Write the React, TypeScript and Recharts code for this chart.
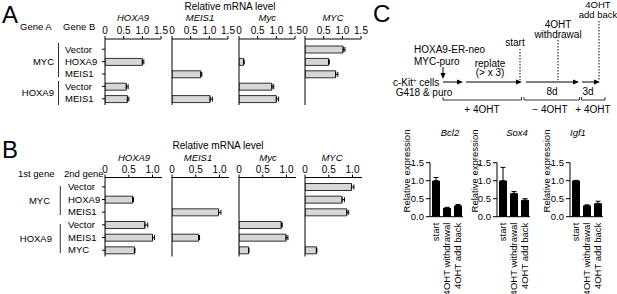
import React from "react";
import { BarChart, Bar, XAxis, YAxis, ErrorBar } from "recharts";

const FONT = "'Liberation Sans', Arial, Helvetica, sans-serif";

// ---- panel A ----
const aGeneA = ["MYC", "MYC", "MYC", "HOXA9", "HOXA9"];
const aGeneB = ["Vector", "HOXA9", "MEIS1", "Vector", "MEIS1"];
const aTargets = ["HOXA9", "MEIS1", "Myc", "MYC"];
const aValues = [
  [null, 1.0, null, 0.57, 0.6],
  [null, null, 0.77, null, 1.02],
  [null, 0.12, null, 0.88, 1.0],
  [1.02, 0.63, 0.82, null, null],
];
const aErrors = [
  [null, 0.04, null, 0.05, 0.04],
  [null, null, 0.03, null, 0.06],
  [null, 0.02, null, 0.05, 0.06],
  [0.05, 0.02, 0.06, null, null],
];
const aTicks = [0, 0.5, 1, 1.5];

// ---- panel B ----
const bGene1 = ["MYC", "MYC", "MYC", "HOXA9", "HOXA9", "HOXA9"];
const bGene2 = ["Vector", "HOXA9", "MEIS1", "Vector", "MEIS1", "MYC"];
const bTargets = ["HOXA9", "MEIS1", "Myc", "MYC"];
const bValues = [
  [null, 0.58, null, 0.84, 1.0, 0.62],
  [null, null, 0.98, null, 0.56, null],
  [null, null, null, 0.89, 0.99, 0.2],
  [0.98, 0.78, 0.88, null, null, 0.24],
];
const bErrors = [
  [null, 0.02, null, 0.06, 0.04, 0.01],
  [null, null, 0.05, null, 0.02, null],
  [null, null, null, 0.02, 0.04, 0.01],
  [0.05, 0.05, 0.04, null, null, 0.01],
];
const bTicks = [0, 0.5, 1];

// ---- panel C ----
const cConditions = ["start", "4OHT withdrawal", "4OHT add back"];
const cGenes = ["Bcl2", "Sox4", "Igf1"];
const cValues = [
  [1.0, 0.24, 0.31],
  [1.0, 0.65, 0.46],
  [1.0, 0.31, 0.37],
];
const cErrors = [
  [0.09, 0.02, 0.03],
  [0.37, 0.05, 0.04],
  [0.01, 0.02, 0.06],
];
const cTicks = [0, 0.5, 1, 1.5];

const panelX = [105, 172, 239.3, 305];

const fmtTick = (v: number) => (v === 0 ? "0" : v.toFixed(1));

function RowTick(props: any) {
  const { y, payload, labelX } = props;
  return (
    <text x={labelX} y={y} dy="0.35em" fontSize={9.5} fontFamily={FONT} fill="#000">
      {String(payload.value).split("/")[1]}
    </text>
  );
}

function HBarPanel(props: {
  left: number;
  top: number;
  axisX: number;
  axisY: number;
  bottom: number;
  plotW: number;
  domain: number[];
  ticks: number[];
  rows: string[];
  values: (number | null)[];
  errors: (number | null)[];
  labelX?: number;
  padTop: number;
}) {
  const { left, top, axisX, axisY, bottom, plotW, domain, ticks, rows, values, errors, labelX, padTop } = props;
  const data = rows.map((r, j) => ({
    key: r,
    value: values[j],
    err: errors[j] == null ? null : [0, errors[j]],
  }));
  const yw = axisX - left;
  return (
    <div style={{ position: "absolute", left, top }}>
      <BarChart
        width={yw + plotW + 8}
        height={bottom - top}
        data={data}
        layout="vertical"
        margin={{ top: axisY - top - 30, right: 8, bottom: 0, left: 0 }}
      >
        <XAxis
          type="number"
          orientation="top"
          domain={domain}
          ticks={ticks}
          interval={0}
          allowDataOverflow
          height={30}
          tickSize={3}
          tickFormatter={fmtTick}
          tick={{ fontSize: 10, fill: "#000", fontFamily: FONT }}
          axisLine={{ stroke: "#000" }}
          tickLine={{ stroke: "#000" }}
        />
        <YAxis
          type="category"
          dataKey="key"
          width={yw}
          interval={0}
          tickSize={3}
          padding={{ top: padTop, bottom: 0 }}
          axisLine={{ stroke: "#000" }}
          tickLine={{ stroke: "#000" }}
          tick={labelX != null ? <RowTick labelX={labelX - left} /> : false}
        />
        <Bar dataKey="value" fill="#d6d6d6" stroke="#000" strokeWidth={0.8} barSize={7} isAnimationActive={false}>
          <ErrorBar dataKey="err" direction="x" width={2.5} stroke="#000" strokeWidth={1} />
        </Bar>
      </BarChart>
    </div>
  );
}

function RotTick(props: any) {
  const { x, y, payload } = props;
  return (
    <text
      x={x}
      y={y}
      transform={`rotate(-90 ${x} ${y})`}
      textAnchor="end"
      dy="0.35em"
      fontSize={9.5}
      fontFamily={FONT}
      fill="#000"
    >
      {payload.value}
    </text>
  );
}

function VBarPanel({ axisX, values, errors }: { axisX: number; values: number[]; errors: number[] }) {
  const data = cConditions.map((c, j) => ({ name: c, value: values[j], err: [0, errors[j]] }));
  const top = 140;
  return (
    <div style={{ position: "absolute", left: axisX - 35, top }}>
      <BarChart width={35 + 33 + 2} height={152} data={data} margin={{ top: 22.7, right: 2, bottom: 0, left: 0 }}>
        <XAxis
          dataKey="name"
          interval={0}
          height={75.3}
          tickSize={4}
          tickLine={false}
          axisLine={{ stroke: "#000" }}
          tick={<RotTick />}
        />
        <YAxis
          type="number"
          domain={[0, 1.5]}
          ticks={cTicks}
          interval={0}
          width={35}
          tickSize={4}
          tickFormatter={(v: number) => v.toFixed(1)}
          tick={{ fontSize: 9.5, fill: "#000", fontFamily: FONT }}
          axisLine={{ stroke: "#000" }}
          tickLine={{ stroke: "#000" }}
        />
        <Bar dataKey="value" fill="#000" barSize={8} isAnimationActive={false}>
          <ErrorBar dataKey="err" direction="y" width={2.5} stroke="#000" strokeWidth={1} />
        </Bar>
      </BarChart>
    </div>
  );
}

function T({ x, y, children, anchor = "start", size = 9.5, italic = false }: any) {
  return (
    <text x={x} y={y} textAnchor={anchor} fontSize={size} fontFamily={FONT} fontStyle={italic ? "italic" : "normal"} fill="#000">
      {children}
    </text>
  );
}

function Arrow({ x1, x2, y }: { x1: number; x2: number; y: number }) {
  return (
    <g>
      <line x1={x1} y1={y} x2={x2 - 5} y2={y} stroke="#000" strokeWidth={1} />
      <polygon points={`${x2},${y} ${x2 - 6},${y - 2.5} ${x2 - 6},${y + 2.5}`} fill="#000" />
    </g>
  );
}

function Seg({ x1, x2, y }: { x1: number; x2: number; y: number }) {
  return (
    <g stroke="#000" strokeWidth={0.8}>
      <line x1={x1} y1={y} x2={x2} y2={y} />
      <line x1={x1} y1={y - 3} x2={x1} y2={y} />
      <line x1={x2} y1={y - 3} x2={x2} y2={y} />
    </g>
  );
}

export default function App() {
  const aRows = aGeneB.map((b, j) => aGeneA[j] + "/" + b);
  const bRows = bGene2.map((b, j) => bGene1[j] + "/" + b);
  return (
    <div style={{ position: "absolute", left: 0, top: 0, width: 617, height: 294, background: "#fff", overflow: "hidden" }}>
      <style>{`.recharts-surface{overflow:visible}`}</style>
      {aTargets.map((g, i) => (
        <HBarPanel
          key={"a" + g + i}
          left={i === 0 ? 0 : panelX[i] - 8}
          top={0}
          axisX={panelX[i]}
          axisY={39}
          bottom={105}
          plotW={56}
          domain={[0, 1.5]}
          ticks={aTicks}
          rows={aRows}
          values={aValues[i]}
          errors={aErrors[i]}
          labelX={i === 0 ? 65 : undefined}
          padTop={4}
        />
      ))}
      {bTargets.map((g, i) => (
        <HBarPanel
          key={"b" + g + i}
          left={i === 0 ? 0 : panelX[i] - 8}
          top={120}
          axisX={panelX[i]}
          axisY={177.5}
          bottom={256.5}
          plotW={57}
          domain={[0, 1.2]}
          ticks={bTicks}
          rows={bRows}
          values={bValues[i]}
          errors={bErrors[i]}
          labelX={i === 0 ? 68 : undefined}
          padTop={3}
        />
      ))}
      {cGenes.map((g, i) => (
        <VBarPanel key={"c" + g} axisX={[430, 497, 570][i]} values={cValues[i]} errors={cErrors[i]} />
      ))}
      <svg width={617} height={294} style={{ position: "absolute", left: 0, top: 0, pointerEvents: "none" }}>
        {/* panel A labels */}
        <T x={2} y={23} size={24}>A</T>
        <T x={230} y={10} size={10} anchor="middle">Relative mRNA level</T>
        {aTargets.map((g, i) => (
          <T key={g + i} x={panelX[i] + 28} y={20.5} anchor="middle" italic>{g}</T>
        ))}
        <T x={20} y={30}>Gene A</T>
        <T x={63} y={30}>Gene B</T>
        <T x={54} y={65} anchor="end">MYC</T>
        <T x={54} y={96} anchor="end">HOXA9</T>
        <line x1={58.5} y1={43} x2={58.5} y2={77} stroke="#000" strokeWidth={0.8} />
        <line x1={58.5} y1={81} x2={58.5} y2={105} stroke="#000" strokeWidth={0.8} />

        {/* panel B labels */}
        <T x={2} y={158} size={24}>B</T>
        <T x={218} y={148.5} size={10} anchor="middle">Relative mRNA level</T>
        {bTargets.map((g, i) => (
          <T key={g + i} x={[134, 198, 268, 332][i]} y={160.5} anchor="middle" italic>{g}</T>
        ))}
        <T x={18} y={176.5}>1st gene</T>
        <T x={64} y={176.5}>2nd gene</T>
        <T x={50} y={204} anchor="end">MYC</T>
        <T x={52} y={241.5} anchor="end">HOXA9</T>
        <line x1={60.3} y1={186} x2={60.3} y2={215} stroke="#000" strokeWidth={0.8} />
        <line x1={60.3} y1={224} x2={60.3} y2={253} stroke="#000" strokeWidth={0.8} />

        {/* panel C scheme */}
        <T x={373} y={22} size={24}>C</T>
        <T x={414} y={53} size={10}>HOXA9-ER-neo</T>
        <T x={414} y={65} size={10}>MYC-puro</T>
        <line x1={443} y1={67} x2={443} y2={74} stroke="#000" strokeWidth={1} />
        <polygon points="443,79 440.5,73 445.5,73" fill="#000" />
        <text x={393} y={85.5} fontSize={10} fontFamily={FONT} fill="#000">
          c-Kit<tspan dy={-3.5} fontSize={6}>+</tspan>
          <tspan dy={3.5}> cells</tspan>
        </text>
        <Arrow x1={443} x2={463} y={82} />
        <Arrow x1={466} x2={522} y={82} />
        <Arrow x1={526} x2={579} y={82} />
        <Arrow x1={582} x2={600} y={82} />
        <T x={490} y={66.5} size={10} anchor="middle">replate</T>
        <T x={490} y={76} size={10} anchor="middle">(&gt; x 3)</T>
        <T x={515} y={45.5} size={10} anchor="middle">start</T>
        <T x={558} y={28} size={10} anchor="middle">4OHT</T>
        <T x={558} y={37.5} size={10} anchor="middle">withdrawal</T>
        <T x={598} y={8} size={9.5} anchor="middle">4OHT</T>
        <T x={598} y={17.5} size={9.5} anchor="middle">add back</T>
        <g stroke="#000" strokeWidth={1} strokeDasharray="1.5 1.5">
          <line x1={520} y1={49} x2={520} y2={80} />
          <line x1={558} y1={40} x2={558} y2={80} />
          <line x1={599} y1={21} x2={599} y2={80} />
        </g>
        <T x={552} y={94.5} size={10} anchor="middle">8d</T>
        <T x={588} y={94.5} size={10} anchor="middle">3d</T>
        <T x={424} y={95.5} size={10} anchor="middle">G418 &amp; puro</T>
        <Seg x1={443} x2={521.5} y={100} />
        <Seg x1={524} x2={579.5} y={100} />
        <Seg x1={581.5} x2={605} y={100} />
        <T x={482} y={112.5} size={10} anchor="middle">+ 4OHT</T>
        <T x={550} y={112.5} size={10} anchor="middle">− 4OHT</T>
        <T x={593} y={112.5} size={10} anchor="middle">+ 4OHT</T>

        {/* panel C chart titles and y labels */}
        {cGenes.map((g, i) => (
          <T key={g} x={[450, 517, 578][i]} y={136} anchor="middle" italic size={9.5}>{g}</T>
        ))}
        {[406.7, 475, 546.7].map((x, i) => (
          <text
            key={"yl" + i}
            x={x}
            y={171}
            transform={`rotate(-90 ${x} 171)`}
            textAnchor="middle"
            dy="0.35em"
            fontSize={9.5}
            fontFamily={FONT}
            fill="#000"
          >
            Relative expression
          </text>
        ))}
      </svg>
    </div>
  );
}
